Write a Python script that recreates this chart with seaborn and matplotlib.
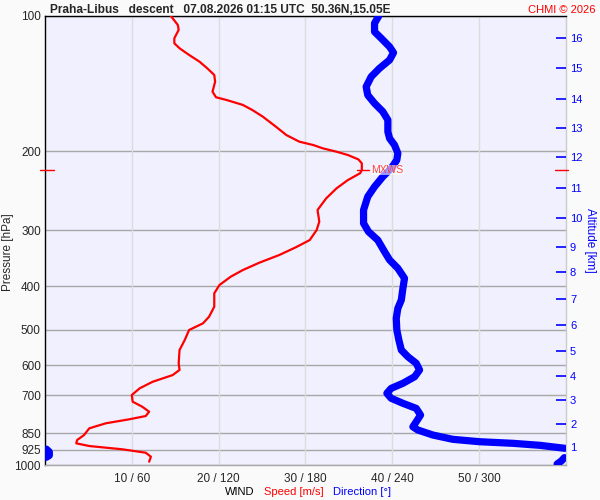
import numpy as np
import pandas as pd
import matplotlib
matplotlib.use("Agg")
import matplotlib.pyplot as plt
from matplotlib.lines import Line2D
import seaborn as sns

# ---------------- data ----------------
speed_p = [100.0, 104.7, 107.4, 112.1, 115.0, 118.0, 122.1, 126.4, 130.8, 135.3, 140.1,
           147.4, 151.7, 153.8, 157.8, 162.0, 167.6, 176.4, 184.1, 190.5, 193.8, 197.1,
           200.6, 204.0, 208.6, 212.9, 220.3, 224.0, 231.9, 241.9, 254.7, 270.4, 287.1,
           299.6, 315.5, 327.4, 340.6, 354.3, 367.9, 380.7, 397.3, 414.6, 444.1, 467.5,
           483.6, 500.4, 526.8, 554.5, 593.5, 614.2, 630.6, 652.6, 675.0, 698.5, 722.8,
           741.6, 760.9, 777.9, 791.1, 807.5, 828.6, 857.5, 879.8, 894.8, 907.3, 922.6,
           938.9, 958.3, 983.2]
speed_ms = [14.5, 15.3, 15.4, 14.9, 14.9, 15.5, 16.6, 17.8, 18.7, 19.5, 19.6,
            19.3, 19.7, 20.9, 22.8, 23.9, 25.1, 26.6, 27.8, 29.3, 30.9, 32.0,
            33.6, 34.9, 36.1, 36.5, 36.5, 36.3, 34.9, 33.6, 32.4, 31.4, 31.6,
            31.3, 30.5, 28.9, 27.0, 24.7, 22.8, 21.4, 20.1, 19.5, 19.5, 18.9,
            18.2, 16.6, 16.1, 15.5, 15.4, 15.5, 14.7, 12.4, 10.9, 10.0, 10.1,
            11.2, 12.0, 11.6, 9.7, 7.0, 5.1, 4.5, 3.7, 3.6, 5.1, 8.9,
            11.6, 12.2, 12.0]

dir_p = [100.0, 103.8, 108.4, 112.1, 117.1, 120.7, 125.3, 130.8, 136.5, 143.7, 150.0,
         156.5, 163.3, 170.4, 181.0, 187.3, 193.8, 202.2, 209.3, 218.4, 228.0, 240.0,
         252.6, 270.4, 289.5, 302.2, 315.5, 334.9, 349.4, 364.7, 383.9, 404.2, 429.1,
         447.8, 471.3, 500.4, 526.8, 554.5, 573.8, 593.5, 614.2, 636.0, 657.7, 675.0,
         692.3, 710.3, 728.8, 748.0, 774.1, 801.1, 822.0, 835.7, 857.5, 876.7, 887.5,
         894.8, 904.0, 917.9, 922.0, 935.0, 952.0, 961.0, 963.0, 979.0, 995.0]
dir_deg = [230.7, 227.8, 227.8, 232.4, 238.2, 240.9, 238.2, 231.2, 225.5, 222.0, 223.1,
           227.8, 233.5, 237.0, 237.0, 238.2, 241.6, 243.9, 243.2, 239.3, 233.5, 227.8,
           223.1, 220.2, 220.2, 223.6, 230.0, 234.7, 238.2, 243.9, 248.5, 247.4, 246.3,
           243.9, 242.8, 243.2, 244.6, 246.3, 250.8, 256.6, 258.9, 255.5, 247.4, 239.3,
           236.3, 239.3, 247.4, 256.6, 259.6, 256.6, 254.3, 257.7, 268.1, 282.0, 300.5,
           323.5, 342.0, 359.3, 1.0, 3.0, 3.0, 1.0, 359.0, 357.0, 354.0]

mxws_p = 220.3
mxws_speed = 36.5

p_ticks = [100, 200, 300, 400, 500, 600, 700, 850, 925, 1000]
speed_ticks = [10, 20, 30, 40, 50]
dir_ticks = [60, 120, 180, 240, 300]
x_ticklabels = [f"{s} / {d}" for s, d in zip(speed_ticks, dir_ticks)]
alt_km = list(range(1, 17))
alt_p = [911.6, 810.5, 716.6, 633.4, 557.5, 488.0, 426.9, 371.7, 327.0, 281.7,
         241.6, 206.1, 177.6, 153.0, 130.8, 112.1]

title = "Praha-Libus   descent   07.08.2026 01:15 UTC  50.36N,15.05E"

# ---------------- style ----------------
sns.set_style("white")
plt.rcParams['font.family'] = ['Liberation Sans', 'DejaVu Sans']

fig = plt.figure(figsize=(6, 5), dpi=100, facecolor="#fafafa")
ax = fig.add_axes([0.075, 0.07, 0.868, 0.898])
ax.set_facecolor("#f0f0ff")

# direction segments (break at 0/360 wrap)
seg = [0]
for i in range(1, len(dir_deg)):
    seg.append(seg[-1] + (1 if abs(dir_deg[i] - dir_deg[i - 1]) > 180 else 0))
df_dir = pd.DataFrame({"p": dir_p, "d": dir_deg, "seg": seg})
df_spd = pd.DataFrame({"p": speed_p, "s": speed_ms})

ax.set_yscale("log")
ax.set_ylim(1000, 100)
ax.set_xlim(0, 60)

# grid
for p in p_ticks:
    ax.axhline(p, color="#a8a8a8", lw=1.0, zorder=1)
for s in speed_ticks:
    ax.axvline(s, color="#dcdcdc", lw=1.0, zorder=1)

sns.lineplot(data=df_spd, x="s", y="p", sort=False, orient="y", estimator=None,
             color="red", lw=1.6, ax=ax, zorder=4)

axd = ax.twiny()
axd.set_xlim(0, 360)
axd.set_yscale("log")
axd.set_ylim(1000, 100)
sns.lineplot(data=df_dir, x="d", y="p", units="seg", sort=False, orient="y",
             estimator=None, color="blue", lw=5.2, ax=axd, zorder=3,
             solid_capstyle="round")
axd.set_xticks([])
axd.set_xlabel("")
axd.set_ylabel("")
for sp in axd.spines.values():
    sp.set_visible(False)

# left axis
ax.set_yticks(p_ticks)
ax.set_yticklabels([str(p) for p in p_ticks])
ax.yaxis.set_minor_locator(matplotlib.ticker.NullLocator())
ax.tick_params(axis="y", length=0, labelsize=8.5, pad=3)
ax.set_ylabel("")

ax.set_xticks(speed_ticks)
ax.set_xticklabels(x_ticklabels)
ax.tick_params(axis="x", length=0, labelsize=8.5, pad=6)
ax.set_xlabel("")

ax.spines["left"].set_color("black")
ax.spines["top"].set_color("black")
ax.spines["right"].set_color("#cccccc")
ax.spines["bottom"].set_color("#a8a8a8")
for sp in ax.spines.values():
    sp.set_linewidth(1.0)

# right altitude axis
axr = ax.twinx()
axr.set_yscale("log")
axr.set_ylim(1000, 100)
axr.set_yticks(alt_p)
axr.set_yticklabels([str(a) for a in alt_km])
axr.yaxis.set_minor_locator(matplotlib.ticker.NullLocator())
axr.tick_params(axis="y", direction="in", length=7, width=1.2, color="blue",
                labelcolor="blue", labelsize=8, pad=3)
axr.set_ylabel("Altitude [km]", color="blue", fontsize=8.5, rotation=270, labelpad=10)
for sp in axr.spines.values():
    sp.set_visible(False)

# MXWS marker: figure-level artists placed in speed/pressure data coordinates
tr = ax.transData
for xs in ([mxws_speed - 0.6, mxws_speed + 0.8], [-0.6, 1.0], [58.8, 60.2]):
    fig.add_artist(Line2D(xs, [mxws_p, mxws_p], color="red", lw=1, transform=tr,
                          zorder=10))
fig.text(mxws_speed + 1.1, mxws_p, "MXWS", color="#ff4040", fontsize=7.5,
         va="center", ha="left", zorder=11, transform=tr,
         bbox=dict(facecolor="white", alpha=0.6, edgecolor="none", pad=0.3))

# texts
fig.text(8 / 600, 1 - 252 / 500, "Pressure [hPa]", fontsize=8.5, rotation=90,
         ha="center", va="center")
fig.text(50 / 600, 1 - 10 / 500, title, fontsize=8.6, fontweight="bold",
         ha="left", va="center")
fig.text(596 / 600, 1 - 10 / 500, "CHMI © 2026", fontsize=8, color="red",
         ha="right", va="center")
ylab = 1 - 492 / 500
fig.text(254 / 600, ylab, "WIND", fontsize=8, color="black", ha="right", va="center")
fig.text(264 / 600, ylab, "Speed [m/s]", fontsize=8, color="red", ha="left", va="center")
fig.text(333 / 600, ylab, "Direction [°]", fontsize=8, color="blue", ha="left", va="center")

fig.savefig("out.png", dpi=100, facecolor=fig.get_facecolor())
